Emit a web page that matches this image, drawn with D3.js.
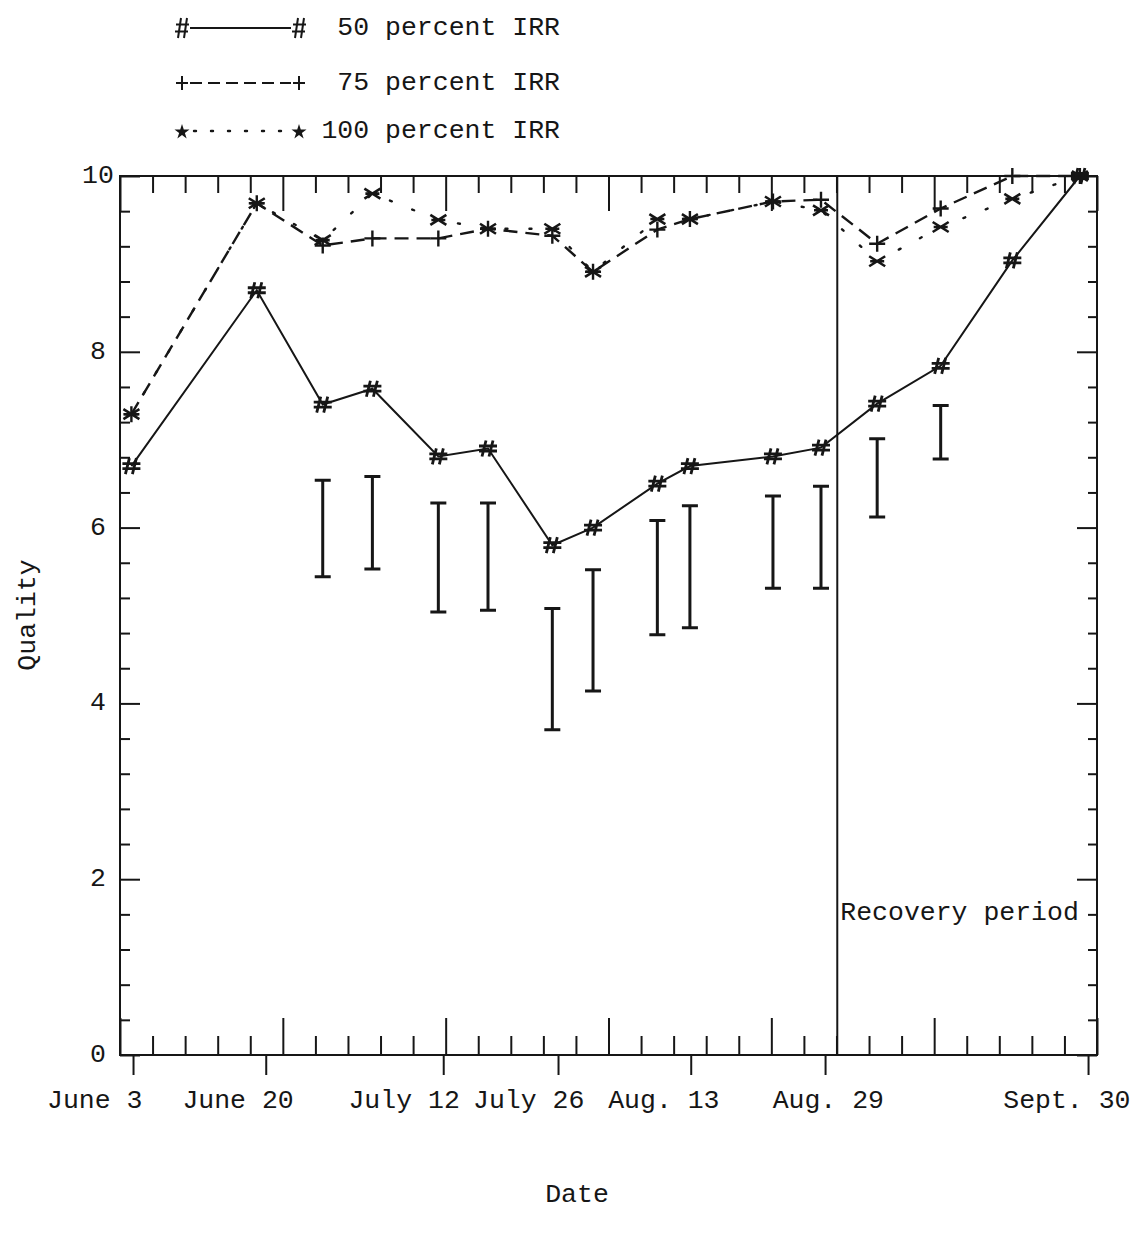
<!DOCTYPE html>
<html>
<head>
<meta charset="utf-8">
<script src="https://cdn.jsdelivr.net/npm/d3@7/dist/d3.min.js"></script>
<style>
  html, body { margin: 0; padding: 0; background: #fff; }
  svg { display: block; }
  text { font-family: "Liberation Mono", "DejaVu Sans Mono", monospace; fill: #161616; }
</style>
</head>
<body>
<svg id="chart" width="1141" height="1236"></svg>
<script>
// Sampling dates, as days on the plot's date axis
const sampleDays = [1.4, 16.8, 24.9, 31.0, 39.1, 45.2, 53.1, 58.1, 66.0, 70.0, 80.2, 86.1, 93.0, 100.8, 109.6, 117.9];

// Quality ratings per irrigation level
const irr50  = [6.70, 8.70, 7.40, 7.58, 6.81, 6.90, 5.80, 6.00, 6.50, 6.70, 6.81, 6.91, 7.41, 7.84, 9.04, 10.0];
const irr75  = [7.29, 9.69, 9.21, 9.29, 9.29, 9.40, 9.32, 8.91, 9.39, 9.51, 9.71, 9.73, 9.23, 9.63, 10.0, 10.0];
const irr100 = [7.29, 9.69, 9.27, 9.80, 9.50, 9.40, 9.40, 8.91, 9.51, 9.51, 9.71, 9.61, 9.03, 9.42, 9.74, 10.0];

// Interval bars: index into sampleDays, low and high ends
const barIndex = [2, 3, 4, 5, 6, 7, 8, 9, 10, 11, 12, 13];
const barLow   = [5.44, 5.53, 5.04, 5.06, 3.70, 4.14, 4.78, 4.86, 5.31, 5.31, 6.12, 6.78];
const barHigh  = [6.54, 6.58, 6.28, 6.28, 5.08, 5.52, 6.08, 6.25, 6.36, 6.47, 7.01, 7.39];

// Date labels: where the date tick sits and where its text is centred
const dateLabels    = ["June 3", "June 20", "July 12", "July 26", "Aug. 13", "Aug. 29", "Sept. 30"];
const dateTickDays  = [1.6, 17.9, 39.7, 53.8, 70.1, 86.6, 118.9];
const dateTextDays  = [-3.1, 14.5, 34.9, 50.2, 66.8, 87.0, 116.3];

// Quality axis labels
const qualityLabels = [0, 2, 4, 6, 8, 10];

const recoveryStart = 88.1;
const seriesNames = ["50 percent IRR", "75 percent IRR", "100 percent IRR"];

const INK = "#161616";
const FONT = 26.5;

const svg = d3.select("#chart");

const plotL = 120, plotR = 1097, plotT = 176, plotB = 1055;
const x = d3.scaleLinear().domain([0, 120]).range([plotL, plotR]);
const y = d3.scaleLinear().domain([0, 10]).range([plotB, plotT]);

// Frame
svg.append("rect")
  .attr("x", plotL).attr("y", plotT)
  .attr("width", plotR - plotL).attr("height", plotB - plotT)
  .attr("fill", "none").attr("stroke", INK).attr("stroke-width", 2);

// Tick sets
const dayMinor = d3.range(0, 121, 4).filter(d => d % 20 !== 0);
const dayMajor = d3.range(0, 121, 20);
const qMinor = d3.range(0, 25.5, 1).filter(k => k % 5 !== 0).map(k => k * 0.4);
const qMajor = [0, 2, 4, 6, 8, 10];

function tickAxis(gen, values, size, tx, ty) {
  const g = svg.append("g")
    .attr("transform", `translate(${tx},${ty})`)
    .call(gen.tickValues(values).tickSize(size).tickSizeOuter(0).tickFormat(""));
  g.select(".domain").remove();
  g.selectAll(".tick line").attr("stroke", INK).attr("stroke-width", 2);
  return g;
}

// Bottom: inward ticks
tickAxis(d3.axisBottom(x), dayMinor, -19, 0, plotB);
tickAxis(d3.axisBottom(x), dayMajor, -37, 0, plotB);
// Top: inward ticks
tickAxis(d3.axisTop(x), dayMinor, -17, 0, plotT);
tickAxis(d3.axisTop(x), dayMajor, -35, 0, plotT);
// Left and right: inward ticks
tickAxis(d3.axisLeft(y), qMinor, -10, plotL, 0);
tickAxis(d3.axisLeft(y), qMajor, -20, plotL, 0);
tickAxis(d3.axisRight(y), qMinor, -9, plotR, 0);
tickAxis(d3.axisRight(y), qMajor, -20, plotR, 0);

// Date ticks below the axis
tickAxis(d3.axisBottom(x), dateTickDays, 20, 0, plotB);

// Date labels
svg.append("g").selectAll("text")
  .data(dateLabels)
  .join("text")
  .attr("x", (d, i) => x(dateTextDays[i]))
  .attr("y", 1101)
  .attr("text-anchor", "middle")
  .attr("dominant-baseline", "central")
  .attr("font-size", FONT)
  .text(d => d);

// Quality labels
svg.append("g").selectAll("text")
  .data(qualityLabels)
  .join("text")
  .attr("x", 98)
  .attr("y", d => y(d))
  .attr("text-anchor", "middle")
  .attr("dominant-baseline", "central")
  .attr("font-size", FONT)
  .text(d => d);

// Axis titles
svg.append("text")
  .attr("transform", "translate(28,615) rotate(-90)")
  .attr("text-anchor", "middle")
  .attr("dominant-baseline", "central")
  .attr("font-size", FONT)
  .text("Quality");

svg.append("text")
  .attr("x", 577).attr("y", 1195)
  .attr("text-anchor", "middle")
  .attr("dominant-baseline", "central")
  .attr("font-size", FONT)
  .text("Date");

// Recovery period divider
svg.append("line")
  .attr("x1", x(recoveryStart)).attr("x2", x(recoveryStart))
  .attr("y1", y(0)).attr("y2", y(10))
  .attr("stroke", INK).attr("stroke-width", 2);

svg.append("text")
  .attr("x", x(recoveryStart) + 3)
  .attr("y", 913)
  .attr("dominant-baseline", "central")
  .attr("font-size", FONT)
  .text("Recovery period");

// Interval bars
const cap = 8;
const bars = svg.append("g").attr("stroke", INK).attr("stroke-width", 3).attr("fill", "none");
barIndex.forEach((idx, i) => {
  const cx = x(sampleDays[idx]);
  const y0 = y(barLow[i]), y1 = y(barHigh[i]);
  bars.append("path")
    .attr("d", `M${cx},${y0}V${y1}M${cx - cap},${y1}H${cx + cap}M${cx - cap},${y0}H${cx + cap}`);
});

// Marker shapes
const hashPath  = "M-2,-8L-6,8M5,-8L1,8M-9,-2.5H9M-9,2.5H9";
const plusPath  = "M-8,0H8M0,-8V8";
const astPath   = "M-8,-5L8,5M-8,5L8,-5M-7,0H7";

const line = d3.line().x(d => x(d[0])).y(d => y(d[1]));

const series = [
  { name: seriesNames[0], values: irr50,  dash: null,   width: 2,   marker: hashPath, mw: 2.8 },
  { name: seriesNames[1], values: irr75,  dash: "14,8", width: 2.4, marker: plusPath, mw: 2.4 },
  { name: seriesNames[2], values: irr100, dash: "2,22", width: 2.4, marker: astPath,  mw: 2.6 }
];

series.slice().reverse().forEach(s => {
  const pts = sampleDays.map((d, i) => [d, s.values[i]]);
  svg.append("path")
    .datum(pts)
    .attr("d", line)
    .attr("fill", "none")
    .attr("stroke", INK)
    .attr("stroke-width", s.width)
    .attr("stroke-dasharray", s.dash)
    .attr("stroke-linecap", s.dash === "2,22" ? "round" : "butt");
  svg.append("g").selectAll("path")
    .data(pts)
    .join("path")
    .attr("transform", d => `translate(${x(d[0])},${y(d[1])})`)
    .attr("d", s.marker)
    .attr("fill", "none")
    .attr("stroke", INK)
    .attr("stroke-width", s.mw);
});

// Legend
const legendRows = [28, 83, 131];
const lx0 = 182, lx1 = 299;
const legend = svg.append("g");
const legendMarks = [
  "M-1,-10L-4,10M5,-10L2,10M-6,-3.5H7M-7,3.5H6",
  "M-6,0H6M0,-7V7",
  null
];
const legendDash = [null, "12,6", "2,15"];
seriesNames.forEach((name, i) => {
  const ry = legendRows[i];
  legend.append("line")
    .attr("x1", lx0 + (i === 2 ? 12 : 8)).attr("x2", lx1 - 8)
    .attr("y1", ry).attr("y2", ry)
    .attr("stroke", INK)
    .attr("stroke-width", i === 2 ? 2.4 : 2)
    .attr("stroke-linecap", i === 2 ? "round" : "butt")
    .attr("stroke-dasharray", legendDash[i]);
  [lx0, lx1].forEach(px => {
    if (legendMarks[i]) {
      legend.append("path")
        .attr("transform", `translate(${px},${ry})`)
        .attr("d", legendMarks[i])
        .attr("fill", "none").attr("stroke", INK).attr("stroke-width", 2);
    } else {
      legend.append("path")
        .attr("transform", `translate(${px},${ry + 1})`)
        .attr("d", d3.symbol(d3.symbolStar, 70)())
        .attr("fill", INK);
    }
  });
  legend.append("text")
    .attr("x", 560).attr("y", ry)
    .attr("text-anchor", "end")
    .attr("dominant-baseline", "central")
    .attr("font-size", FONT)
    .text(name);
});
</script>
</body>
</html>
